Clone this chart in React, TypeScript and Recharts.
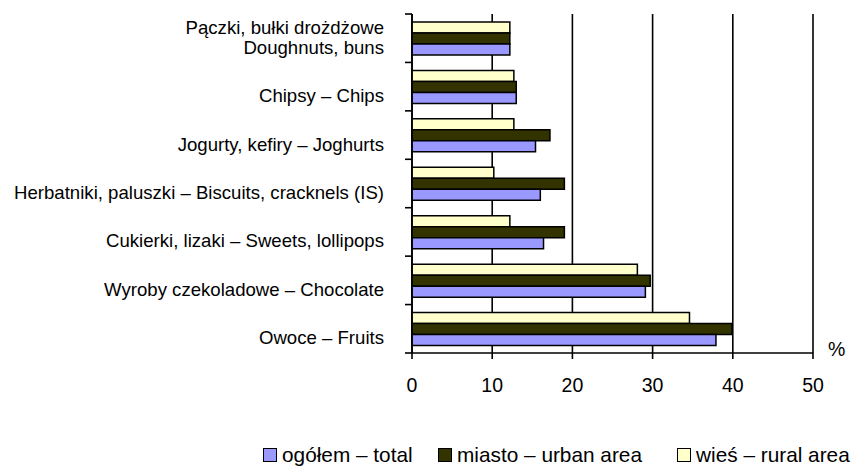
import { BarChart, Bar, XAxis, YAxis, CartesianGrid } from 'recharts';

const categories = [
  'Pączki, bułki drożdżowe\nDoughnuts, buns',
  'Chipsy – Chips',
  'Jogurty, kefiry – Joghurts',
  'Herbatniki, paluszki – Biscuits, cracknels (IS)',
  'Cukierki, lizaki – Sweets, lollipops',
  'Wyroby czekoladowe – Chocolate',
  'Owoce – Fruits',
];
const total = [12.2, 13.0, 15.4, 16.0, 16.4, 29.1, 37.9];
const urban = [12.2, 13.0, 17.2, 19.0, 19.0, 29.7, 39.9];
const rural = [12.2, 12.7, 12.7, 10.2, 12.2, 28.1, 34.6];
const xTicks = [0, 10, 20, 30, 40, 50];

const seriesNames = {
  total: 'ogółem – total',
  urban: 'miasto – urban area',
  rural: 'wieś – rural area',
};
const colors = { total: '#9999FF', urban: '#333300', rural: '#FFFFCC' };

const FONT = '"Liberation Sans", Arial, sans-serif';

const chartData = categories.map((name, i) => ({
  name,
  total: total[i],
  urban: urban[i],
  rural: rural[i],
}));

// label plus the little tick mark at the top of each band (and the bottom of the last)
function CategoryTick(props: any) {
  const { x, y, payload, index } = props;
  const half = payload?.offset ?? 24.2;
  const axisX = x + 28;
  const lines = String(payload.value).split('\n');
  return (
    <g>
      <line x1={axisX - 7} x2={axisX} y1={y - half} y2={y - half} stroke="#000" strokeWidth={1.6} />
      {index === categories.length - 1 && (
        <line x1={axisX - 7} x2={axisX} y1={y + half} y2={y + half} stroke="#000" strokeWidth={1.6} />
      )}
      <text textAnchor="end" fontSize={18.6} fontFamily={FONT} fill="#000">
        {lines.map((l, i) => (
          <tspan key={i} x={x} y={y + 9 - (lines.length - 1 - i) * 20} dy="0.35em">
            {l}
          </tspan>
        ))}
      </text>
    </g>
  );
}

const legendItems: { key: 'total' | 'urban' | 'rural'; left: number }[] = [
  { key: 'total', left: 263 },
  { key: 'urban', left: 438 },
  { key: 'rural', left: 677 },
];

export default function App() {
  return (
    <div style={{ position: 'absolute', left: 0, top: 0, width: 856, height: 467, background: '#fff', fontFamily: FONT }}>
      <BarChart
        width={856}
        height={467}
        data={chartData}
        layout="vertical"
        margin={{ top: 14, right: 43, left: 0, bottom: 74 }}
        barCategoryGap="16.5%"
        barGap={0}
      >
        <CartesianGrid horizontal={false} stroke="#000" strokeWidth={1.6} />
        <XAxis
          type="number"
          domain={[0, 50]}
          ticks={xTicks}
          height={40}
          axisLine={{ stroke: '#000', strokeWidth: 1.6 }}
          tickLine={{ stroke: '#000', strokeWidth: 1.6 }}
          tickSize={6}
          tickMargin={19}
          tick={{ fill: '#000', fontSize: 19.5, fontFamily: FONT }}
        />
        <YAxis
          type="category"
          dataKey="name"
          width={412}
          axisLine={{ stroke: '#000', strokeWidth: 1.6 }}
          tickLine={false}
          tickSize={0}
          tickMargin={28}
          interval={0}
          tick={<CategoryTick />}
        />
        <Bar dataKey="rural" fill={colors.rural} stroke="#000" strokeWidth={1.5} isAnimationActive={false} />
        <Bar dataKey="urban" fill={colors.urban} stroke="#000" strokeWidth={1.5} isAnimationActive={false} />
        <Bar dataKey="total" fill={colors.total} stroke="#000" strokeWidth={1.5} isAnimationActive={false} />
      </BarChart>
      <div style={{ position: 'absolute', left: 828, top: 338, fontSize: 19.5, lineHeight: '22px' }}>%</div>
      {legendItems.map((it) => (
        <div
          key={it.key}
          style={{ position: 'absolute', left: it.left, top: 443, display: 'flex', alignItems: 'center', fontSize: 20.8, lineHeight: '24px', whiteSpace: 'nowrap' }}
        >
          <span
            style={{ display: 'inline-block', width: 12, height: 12, background: colors[it.key], border: '1.5px solid #000', marginRight: 5 }}
          />
          {seriesNames[it.key]}
        </div>
      ))}
    </div>
  );
}
